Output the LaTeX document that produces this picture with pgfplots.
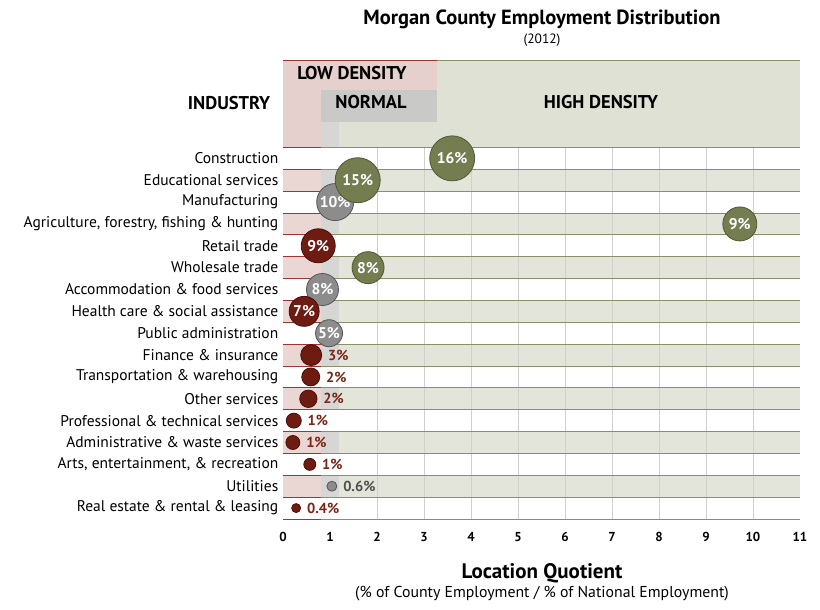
\documentclass[border=0pt]{standalone}
\usepackage{pgfplots}
\pgfplotsset{compat=1.18}
\usepackage{fontspec}
\setmainfont{PT Sans}
\definecolor{bubred}{HTML}{6E1B12}
\definecolor{bubredE}{HTML}{4A0F08}
\definecolor{bubolive}{HTML}{737D4F}
\definecolor{buboliveE}{HTML}{505836}
\definecolor{bubgray}{HTML}{8C8C8C}
\definecolor{bubgrayE}{HTML}{555555}
\definecolor{lblred}{HTML}{7A2518}
\definecolor{lblgray}{HTML}{505050}
\definecolor{bandolive}{HTML}{E3E4DA}
\definecolor{bandpink}{HTML}{EAD6D3}
\definecolor{bandgray}{HTML}{D6D6D4}
\definecolor{hdrpink}{HTML}{E6D0CD}
\definecolor{hdrgray}{HTML}{C9C9C7}
\definecolor{hdrolive}{HTML}{E0E1D5}
\definecolor{lineolive}{HTML}{8A8E6B}
\definecolor{linered}{HTML}{9E3535}
\definecolor{gridgray}{HTML}{D0D0CC}

% bubble styles: #1 = radius, #2 = employment share label
\pgfplotsset{
  bubbase/.style={only marks, mark=*, line width=0.8pt},
  bubin/.style n args={4}{bubbase, mark size=#1,
    mark options={draw=#3, fill=#4}, nodes near coords={#2\%},
    every node near coord/.style={anchor=center, text=white,
      font=\bfseries\fontsize{15.5}{16}\selectfont}},
  bubout/.style n args={5}{bubbase, mark size=#1,
    mark options={draw=#3, fill=#4}, nodes near coords={#2\%},
    every node near coord/.style={anchor=west, inner sep=1pt,
      xshift={#1pt+5pt}, text=#5, font=\bfseries\fontsize{14.5}{15}\selectfont}},
  bO/.style 2 args={bubin={#1}{#2}{buboliveE}{bubolive}},
  bG/.style 2 args={bubin={#1}{#2}{bubgrayE}{bubgray}},
  bR/.style 2 args={bubin={#1}{#2}{bubredE}{bubred}},
  bGo/.style 2 args={bubout={#1}{#2}{bubgrayE}{bubgray}{lblgray}},
  bRo/.style 2 args={bubout={#1}{#2}{bubredE}{bubred}{lblred}},
}

\begin{document}
\begin{tikzpicture}
\useasboundingbox (-283pt,-91pt) rectangle (537pt,519pt);
\begin{axis}[
  at={(0,0)}, anchor=south west,
  scale only axis, width=517pt, height=459pt,
  xmin=0, xmax=11, ymin=-3.5, ymax=17.5, y dir=reverse,
  clip=false,
  axis line style={draw=none}, major tick length=0pt, tick style={draw=none},
  xtick={0,...,11},
  xticklabel style={font=\bfseries\fontsize{13}{14}\selectfont, yshift=-10pt},
  /pgf/number format/assume math mode=true,
  ytick={1,...,17},
  yticklabels={Construction, Educational services, Manufacturing,
    {Agriculture, forestry, fishing \& hunting}, Retail trade, Wholesale trade,
    Accommodation \& food services, Health care \& social assistance,
    Public administration, Finance \& insurance, Transportation \& warehousing,
    Other services, Professional \& technical services,
    Administrative \& waste services, {Arts, entertainment, \& recreation},
    Utilities, Real estate \& rental \& leasing},
  yticklabel style={font=\fontsize{15.5}{16}\selectfont, inner sep=4.5pt},
]
% header
\fill[hdrolive] (axis cs:1.2,-3.5) rectangle (axis cs:11,0.5);
\fill[hdrpink] (axis cs:0,-3.5) rectangle (axis cs:0.8,0.5);
\fill[hdrpink] (axis cs:0.8,-3.5) rectangle (axis cs:3.28,-2.13);
\fill[hdrgray] (axis cs:0.8,-2.13) rectangle (axis cs:3.28,-0.67);
\fill[bandgray] (axis cs:0.8,-0.67) rectangle (axis cs:1.2,0.5);
\draw[linered, line width=1pt] (axis cs:0,-3.5) -- (axis cs:3.28,-3.5);
\draw[lineolive, line width=1pt] (axis cs:3.28,-3.5) -- (axis cs:11,-3.5);
% shaded rows
\pgfplotsinvokeforeach{2,4,...,16}{
  \fill[bandpink] (axis cs:0,#1-0.5) rectangle (axis cs:0.8,#1+0.5);
  \fill[bandgray] (axis cs:0.8,#1-0.5) rectangle (axis cs:1.2,#1+0.5);
  \fill[bandolive] (axis cs:1.2,#1-0.5) rectangle (axis cs:11,#1+0.5);
}
% vertical grid
\pgfplotsinvokeforeach{2,...,10}{
  \draw[gridgray, line width=0.7pt] (axis cs:#1,0.5) -- (axis cs:#1,17.5);
}
% row lines
\pgfplotsinvokeforeach{0,...,17}{
  \draw[linered, line width=0.9pt] (axis cs:0,#1+0.5) -- (axis cs:0.8,#1+0.5);
  \draw[lineolive, line width=0.9pt] (axis cs:0.8,#1+0.5) -- (axis cs:11,#1+0.5);
}
% bubbles: x = location quotient, y = row (1 = Construction ... 17 = Real estate)
% normal (gray)
\addplot[bG={18.5}{10}] coordinates {(1.11,3)};   % Manufacturing
\addplot[bG={16}{8}] coordinates {(0.84,7)};      % Accommodation & food
\addplot[bG={13.5}{5}] coordinates {(0.98,9)};    % Public administration
\addplot[bGo={5}{0.6}] coordinates {(1.04,16)};   % Utilities
% low density (red)
\addplot[bR={17}{9}] coordinates {(0.75,5)};       % Retail trade
\addplot[bR={15}{7}] coordinates {(0.45,8)};       % Health care
\addplot[bRo={10.5}{3}] coordinates {(0.60,10)};   % Finance
\addplot[bRo={9}{2}] coordinates {(0.59,11)};      % Transportation
\addplot[bRo={8.7}{2}] coordinates {(0.54,12)};    % Other services
\addplot[bRo={7.5}{1}] coordinates {(0.23,13)};    % Professional
\addplot[bRo={7}{1}] coordinates {(0.21,14)};      % Administrative
\addplot[bRo={6}{1}] coordinates {(0.57,15)};      % Arts
\addplot[bRo={4.5}{0.4}] coordinates {(0.28,17)};  % Real estate
% high density (olive)
\addplot[bO={22.5}{16}] coordinates {(3.60,1)};  % Construction
\addplot[bO={22.5}{15}] coordinates {(1.59,2)};  % Educational services
\addplot[bO={17}{9}] coordinates {(9.72,4)};     % Agriculture
\addplot[bO={16}{8}] coordinates {(1.81,6)};     % Wholesale trade
\end{axis}
% texts (1pt = 1px; origin at axis lower-left)
\node[anchor=base, font=\bfseries\fontsize{20.5}{22}\selectfont] at (259pt,494pt) {Morgan County Employment Distribution};
\node[anchor=base, font=\fontsize{13.5}{14}\selectfont] at (259pt,475pt) {(2012)};
\node[anchor=base, font=\bfseries\fontsize{21}{22}\selectfont] at (259pt,-60pt) {Location Quotient};
\node[anchor=base, font=\fontsize{15.8}{17}\selectfont] at (259pt,-79pt) {(\% of County Employment / \% of National Employment)};
\node[anchor=base, font=\bfseries\fontsize{18.5}{19}\selectfont] at (-54pt,409pt) {INDUSTRY};
\node[anchor=base, font=\bfseries\fontsize{18.5}{19}\selectfont] at (69pt,439pt) {LOW DENSITY};
\node[anchor=base, font=\bfseries\fontsize{18.5}{19}\selectfont] at (88pt,410pt) {NORMAL};
\node[anchor=base, font=\bfseries\fontsize{18.5}{19}\selectfont] at (318pt,410pt) {HIGH DENSITY};
\end{tikzpicture}
\end{document}
